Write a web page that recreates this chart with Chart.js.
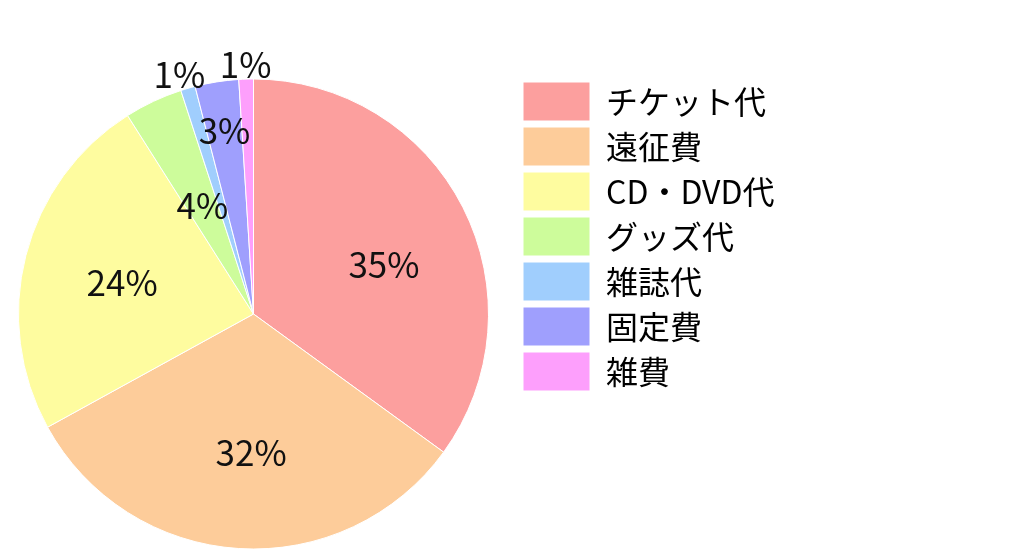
<!DOCTYPE html>
<html lang="ja">
<head>
<meta charset="utf-8">
<title>支出の内訳</title>
<script src="https://cdn.jsdelivr.net/npm/chart.js@4/dist/chart.umd.min.js"></script>
<style>
  html, body { margin: 0; padding: 0; background: #fff; }
  #wrap { width: 1024px; height: 549px; overflow: hidden; position: relative; }
  #pieChart { position: absolute; left: -10px; top: 0; }
</style>
</head>
<body>
<div id="wrap"><canvas id="pieChart" width="1034" height="549"></canvas></div>
<script>
// data (percent)
const categories = ['チケット代', '遠征費', 'CD・DVD代', 'グッズ代', '雑誌代', '固定費', '雑費'];
const values = [35, 32, 24, 4, 1, 3, 1];
const colors = ['#FC9F9E', '#FDCC9A', '#FEFC9F', '#CDFC9B', '#A0CEFD', '#9F9FFD', '#FD9FFC'];

// where each % label sits: fraction of the radius, nudge in degrees
const labelRadius = [0.593, 0.589, 0.575, 0.511, 1.067, 0.79, 1.06];
const labelShift = [6.4, -2.6, -0.9, 0, -1, 0, 0];

const FONT = '"Noto Sans CJK JP", "Noto Sans", sans-serif';
const LEGEND_W = 507;

const pctLabels = {
  id: 'pctLabels',
  afterDatasetsDraw(chart) {
    const { ctx } = chart;
    const meta = chart.getDatasetMeta(0);
    const total = values.reduce((a, b) => a + b, 0);
    ctx.save();
    ctx.font = '35px ' + FONT;
    ctx.fillStyle = '#111';
    ctx.textAlign = 'center';
    ctx.textBaseline = 'middle';
    meta.data.forEach((arc, i) => {
      const p = arc.getProps(['x', 'y', 'startAngle', 'endAngle', 'outerRadius'], true);
      const a = (p.startAngle + p.endAngle) / 2 + labelShift[i] * Math.PI / 180;
      const r = p.outerRadius * labelRadius[i];
      ctx.fillText(Math.round(values[i] / total * 100) + '%', p.x + r * Math.cos(a), p.y + r * Math.sin(a));
    });
    ctx.restore();
  }
};

// pin the legend width so it starts right next to the pie
const legendSize = {
  id: 'legendSize',
  beforeLayout(chart) {
    const lg = chart.legend;
    if (lg && !lg._patched) {
      const fit = lg.fit;
      lg.fit = function () { fit.call(this); this.width = LEGEND_W; };
      lg._patched = true;
    }
  },
  afterLayout(chart) {
    chart.legend.top -= 3;
    chart.legend.bottom -= 3;
  }
};

new Chart(document.getElementById('pieChart'), {
  type: 'pie',
  data: {
    labels: categories,
    datasets: [{
      data: values,
      backgroundColor: colors,
      borderColor: '#fff',
      borderWidth: 1,
      hoverOffset: 0
    }]
  },
  options: {
    responsive: false,
    animation: false,
    radius: 235,
    layout: { padding: { left: 0, top: 79, right: 0, bottom: 0 } },
    plugins: {
      tooltip: { enabled: false },
      legend: {
        position: 'right',
        align: 'start',
        labels: {
          boxWidth: 67,
          boxHeight: 39,
          padding: 6,
          color: '#000',
          font: { size: 32, family: FONT }
        }
      }
    }
  },
  plugins: [pctLabels, legendSize]
});
</script>
</body>
</html>
